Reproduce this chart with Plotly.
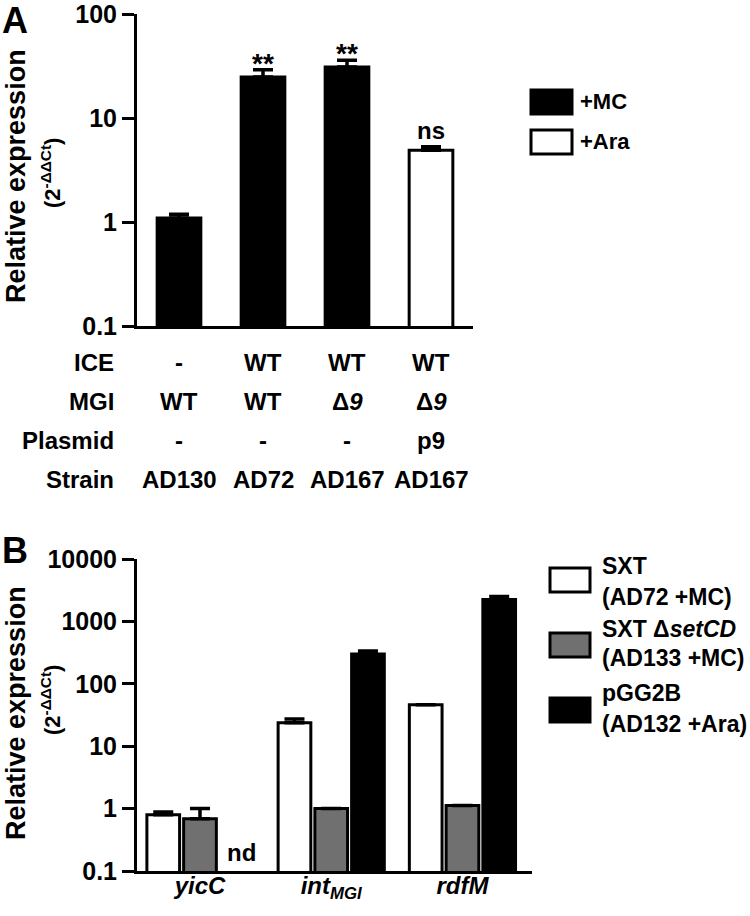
import math
import plotly.graph_objects as go

# ---------------- Data: panel A ----------------
strains_A = ["AD130", "AD72", "AD167", "AD167"]
ice_row = ["-", "WT", "WT", "WT"]
mgi_row = ["WT", "WT", "Δ<i>9</i>", "Δ<i>9</i>"]
plasmid_row = ["-", "-", "-", "p9"]
row_labels = ["ICE", "MGI", "Plasmid", "Strain"]

mc_idx = [0, 1, 2]
mc_vals = [1.09, 24.8, 31.0]
mc_err = [0.10, 4.3, 5.0]
ara_idx = [3]
ara_vals = [4.9]
ara_err = [0.4]
signif_idx = [1, 2, 3]
signif_txt = ["**", "**", "ns"]

A_ticks = [0.1, 1, 10, 100]
A_ticktext = ["0.1", "1", "10", "100"]

# ---------------- Data: panel B ----------------
genes_B = ["yicC", "intMGI", "rdfM"]
genes_B_text = ["<i>yicC</i>", "<i>int<sub>MGI</sub></i>", "<i>rdfM</i>"]
sxt_vals = [0.80, 23.8, 46.0]
sxt_err = [0.08, 3.6, 0.0]
setcd_vals = [0.69, 1.0, 1.12]
setcd_err = [0.31, 0.0, 0.0]
pgg_vals = [None, 300.0, 2250.0]
pgg_err = [0.0, 36.0, 260.0]

B_ticks = [0.1, 1, 10, 100, 1000, 10000]
B_ticktext = ["0.1", "1", "10", "100", "1000", "10000"]

legend_A = ["+MC", "+Ara"]
legend_B_lines = [
    ["SXT", "(AD72 +MC)"],
    ["SXT Δ<i>setCD</i>", "(AD133 +MC)"],
    ["pGG2B", "(AD132 +Ara)"],
]

# ---------------- Styles ----------------
FONT = "Liberation Sans, Arial, sans-serif"
W, H = 750, 916
GRAY = "#707070"


def px(x):
    return x / W


def py(y):
    return 1 - y / H


def f(size):
    return dict(family=FONT, size=size, color="black", weight="bold")


fig = go.Figure()

err_style = dict(type="data", symmetric=False, color="black", thickness=3.5, width=10)

fig.add_trace(go.Bar(
    x=mc_idx, y=mc_vals, xaxis="x", yaxis="y", offsetgroup="A", width=0.52,
    marker=dict(color="black", line=dict(color="black", width=3)),
    error_y=dict(array=mc_err, arrayminus=[0] * len(mc_err), **err_style),
    name="+MC", showlegend=False,
))
fig.add_trace(go.Bar(
    x=ara_idx, y=ara_vals, xaxis="x", yaxis="y", offsetgroup="A", width=0.52,
    marker=dict(color="white", line=dict(color="black", width=3)),
    error_y=dict(array=ara_err, arrayminus=[0] * len(ara_err), **err_style),
    name="+Ara", showlegend=False,
))

for vals, errs, col, nm in [
    (sxt_vals, sxt_err, "white", "SXT"),
    (setcd_vals, setcd_err, GRAY, "SXT ΔsetCD"),
    (pgg_vals, pgg_err, "black", "pGG2B"),
]:
    fig.add_trace(go.Bar(
        x=genes_B, y=vals, xaxis="x2", yaxis="y2",
        marker=dict(color=col, line=dict(color="black", width=3)),
        error_y=dict(array=errs, arrayminus=[0] * len(errs), **err_style),
        name=nm, showlegend=False,
    ))

axis_common = dict(showline=True, linecolor="black", linewidth=3, showgrid=False,
                   zeroline=False, automargin=False, ticklabeloverflow="allow")

fig.update_layout(
    width=W, height=H,
    margin=dict(l=0, r=0, t=0, b=0, pad=0, autoexpand=False),
    paper_bgcolor="white", plot_bgcolor="rgba(0,0,0,0)",
    barmode="group", bargap=0.16, bargroupgap=0.11,
    showlegend=False,
    font=dict(family=FONT, color="black"),
    xaxis=dict(domain=[px(137), px(473)], anchor="y", range=[-0.5, 3.5],
               showticklabels=False, ticks="", **axis_common),
    yaxis=dict(domain=[py(326), py(14)], anchor="x", type="log", range=[-1, 2],
               tickvals=A_ticks, ticktext=A_ticktext, ticks="outside", ticklen=12,
               tickwidth=3, tickcolor="black", tickfont=f(25), **axis_common),
    xaxis2=dict(domain=[px(137), px(532)], anchor="y2", range=[-0.48, 2.53],
                type="category", ticks="", tickvals=genes_B, ticktext=genes_B_text,
                tickfont=f(24), ticklabelstandoff=-9, **axis_common),
    yaxis2=dict(domain=[py(871), py(559)], anchor="x2", type="log", range=[-1, 4],
                tickvals=B_ticks, ticktext=B_ticktext, ticks="outside", ticklen=12,
                tickwidth=3, tickcolor="black", tickfont=f(25), **axis_common),
)

shapes = []
# reference dashed lines at 1
shapes.append(dict(type="line", xref="x domain", yref="y", x0=0, x1=0.99, y0=0, y1=0,
                   line=dict(color="black", width=2.5, dash="dash"), layer="below"))
shapes.append(dict(type="line", xref="x2 domain", yref="y2", x0=0, x1=0.995, y0=0, y1=0,
                   line=dict(color="black", width=2, dash="dash"), layer="below"))

# legend boxes A
legA_cols = ["black", "white"]
legA_y = [102, 142]
for c, yc in zip(legA_cols, legA_y):
    shapes.append(dict(type="rect", xref="paper", yref="paper", x0=px(531), x1=px(572),
                       y0=py(yc + 12), y1=py(yc - 12), fillcolor=c, line=dict(color="black", width=3)))
# legend boxes B
legB_cols = ["white", GRAY, "black"]
legB_box_y = [580, 645, 710]
legB_txt_y = [[566, 597], [629, 658], [693, 724]]
for c, yc in zip(legB_cols, legB_box_y):
    shapes.append(dict(type="rect", xref="paper", yref="paper", x0=px(550), x1=px(590),
                       y0=py(yc + 12), y1=py(yc - 12), fillcolor=c, line=dict(color="black", width=3)))
fig.update_layout(shapes=shapes)

ann = []

# significance labels
sig_tops = {}
for i, v, e in zip(mc_idx, mc_vals, mc_err):
    sig_tops[i] = v + e
for i, v, e in zip(ara_idx, ara_vals, ara_err):
    sig_tops[i] = v + e
for i, t in zip(signif_idx, signif_txt):
    if t == "**":
        ann.append(dict(x=i, y=math.log10(sig_tops[i]), xref="x", yref="y", text=t,
                        showarrow=False, yanchor="bottom", yshift=-11, font=f(28)))
    else:
        ann.append(dict(x=i, y=math.log10(sig_tops[i]), xref="x", yref="y", text=t,
                        showarrow=False, yanchor="middle", yshift=16, font=f(24)))

# table under panel A
table_rows = [ice_row, mgi_row, plasmid_row, strains_A]
row_y = [362, 401, 440, 479]
for lab, row, yy in zip(row_labels, table_rows, row_y):
    ann.append(dict(x=px(116), y=py(yy), xref="paper", yref="paper", text=lab,
                    showarrow=False, xanchor="right", yanchor="middle", font=f(24)))
    for i, t in enumerate(row):
        ann.append(dict(x=i, y=py(yy), xref="x", yref="paper", text=t,
                        showarrow=False, xanchor="center", yanchor="middle", font=f(24)))

# nd label
ann.append(dict(x="yicC", y=-1, xref="x2", yref="y2", text="nd", showarrow=False,
                xshift=42, yanchor="bottom", yshift=3, font=f(24)))

# legend texts
for t, yy in zip(legend_A, legA_y):
    ann.append(dict(x=px(578), y=py(yy), xref="paper", yref="paper", text=t,
                    showarrow=False, xanchor="left", yanchor="middle", font=f(22)))
for lines, ys in zip(legend_B_lines, legB_txt_y):
    for t, yy in zip(lines, ys):
        ann.append(dict(x=px(600), y=py(yy), xref="paper", yref="paper", text=t,
                        showarrow=False, xanchor="left", yanchor="middle", font=f(23)))

# y-axis titles
for yc1, yc2 in [(176, 173), (713, 700)]:
    ann.append(dict(x=px(16), y=py(yc1), xref="paper", yref="paper",
                    text="Relative expression", textangle=-90, showarrow=False,
                    xanchor="center", yanchor="middle", font=f(27)))
    ann.append(dict(x=px(51), y=py(yc2), xref="paper", yref="paper",
                    text="(2<sup>-ΔΔCt</sup>)", textangle=-90, showarrow=False,
                    xanchor="center", yanchor="middle", font=f(22)))

# panel letters
ann.append(dict(x=0, y=py(-2), xref="paper", yref="paper", text="A", showarrow=False,
                xanchor="left", yanchor="top", font=f(36)))
ann.append(dict(x=0, y=py(528), xref="paper", yref="paper", text="B", showarrow=False,
                xanchor="left", yanchor="top", font=f(36)))

fig.update_layout(annotations=ann)
fig.write_html("out.html", config={"displayModeBar": False},
               post_script="document.body.style.margin='0';document.body.style.overflow='hidden';")
